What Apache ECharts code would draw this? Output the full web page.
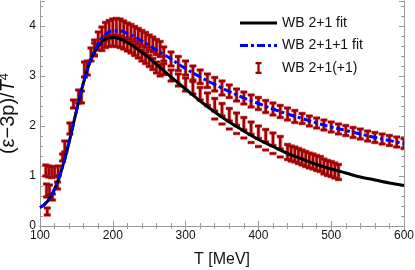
<!DOCTYPE html>
<html><head><meta charset="utf-8">
<script src="https://cdn.jsdelivr.net/npm/echarts@6/dist/echarts.min.js"></script>
<style>html,body{margin:0;padding:0;background:#fff}#c{width:415px;height:270px}</style>
</head><body><div id="c"></div>
<script>
// ---- fit curves ----
const fitT   = [100,110,120,130,140,150,160,170,180,190,200,210,220,230,240,250,260,270,280,290,300,320,340,360,380,400,420,440,460,480,500,520,540,560,580,600];
const fit21  = [0.37,0.49,0.74,1.14,1.68,2.30,2.88,3.33,3.60,3.74,3.77,3.74,3.67,3.58,3.47,3.36,3.23,3.11,2.98,2.86,2.74,2.50,2.28,2.08,1.90,1.73,1.59,1.45,1.34,1.23,1.14,1.06,0.98,0.92,0.86,0.81];
const fit211 = [0.37,0.49,0.74,1.14,1.68,2.30,2.88,3.33,3.64,3.83,3.90,3.90,3.85,3.78,3.70,3.61,3.52,3.43,3.34,3.24,3.15,2.98,2.83,2.69,2.56,2.45,2.34,2.24,2.15,2.06,1.98,1.91,1.84,1.77,1.71,1.65];

// ---- lattice error bars: T, low, high ----
const lowT  = [108,112,116,120,125,109,113,110,117,124,131,134,141,146,153,157,161,165,170,175];
const lowLo = [1.00,0.98,0.97,0.98,1.01,0.58,0.62,0.22,0.52,0.74,1.30,1.48,1.84,2.36,2.46,2.46,2.98,3.02,3.30,3.42];
const lowHi = [1.22,1.20,1.19,1.18,1.20,0.84,0.82,0.36,0.64,0.88,1.44,1.70,2.06,2.52,2.72,2.70,3.28,3.30,3.56,3.66];

const pkUpT  = [175,180,185,190,195,200,205,210,215,220,225,230,235,240,245,250,255,260,265];
const pkUpLo = [3.40,3.52,3.62,3.71,3.75,3.78,3.79,3.78,3.76,3.76,3.73,3.69,3.65,3.61,3.57,3.52,3.48,3.43,3.39];
const pkUpHi = [3.72,3.88,3.98,4.07,4.11,4.14,4.15,4.14,4.10,4.06,4.03,3.99,3.95,3.91,3.87,3.82,3.78,3.73,3.69];

const pkLoT  = [185,190,195,200,205,210,215,220,225,230,235,240,245,250,255,260,265];
const pkLoLo = [3.51,3.57,3.59,3.60,3.59,3.57,3.54,3.50,3.46,3.41,3.36,3.30,3.25,3.19,3.13,3.06,3.00];
const pkLoHi = [3.73,3.79,3.81,3.82,3.81,3.79,3.76,3.72,3.68,3.63,3.58,3.52,3.47,3.41,3.35,3.28,3.22];

const upT  = [270,280,290,300,310,320,330,340,350,360,370,380,390,400,410,420,430,440,450,460,470,480,490,500,510,520,530,540,550,560,570,580,590,600];
const upLo = [3.30,3.20,3.11,3.02,2.92,2.85,2.77,2.70,2.62,2.57,2.50,2.44,2.38,2.33,2.27,2.22,2.17,2.12,2.07,2.05,2.00,1.96,1.92,1.88,1.84,1.81,1.77,1.74,1.70,1.67,1.64,1.61,1.58,1.55];
const upHi = [3.58,3.48,3.39,3.30,3.20,3.12,3.04,2.97,2.90,2.82,2.74,2.68,2.62,2.57,2.51,2.46,2.41,2.36,2.31,2.25,2.20,2.16,2.12,2.08,2.04,2.01,1.97,1.94,1.90,1.87,1.84,1.81,1.78,1.75];

const midT  = [270,280,290,300,310,320,330,340,350,360,370,380,390,400,410,420,430];
const midLo = [3.03,2.90,2.80,2.70,2.64,2.52,2.41,2.30,2.20,2.10,2.01,1.92,1.83,1.75,1.68,1.61,1.54];
const midHi = [3.25,3.12,3.04,2.96,2.89,2.77,2.66,2.55,2.45,2.35,2.26,2.17,2.08,2.00,1.93,1.86,1.79];

const denseT  = [440,445,450,455,460,465,470,475,480,485,490,495,500,505,510];
const denseLo = [1.33,1.30,1.28,1.25,1.22,1.19,1.16,1.14,1.11,1.09,1.04,1.01,0.99,0.96,0.93];
const denseHi = [1.63,1.60,1.58,1.55,1.52,1.49,1.46,1.44,1.41,1.39,1.34,1.31,1.29,1.26,1.23];

const dashT = [340,350,360,370,380,390,400,410,420,430];
const dashV = [2.14,2.04,1.94,1.85,1.76,1.67,1.59,1.52,1.45,1.38];

const xTicks = [100,200,300,400,500,600];
const yTicks = [0,1,2,3,4];

const RED = '#a00000';
const HALO = 'rgba(200,60,60,0.35)';
const FONT = 'Liberation Sans, Arial, Helvetica, sans-serif';

function zip3(a,b,c){ return a.map((v,i)=>[v,b[i],c[i]]); }
const allBars = [].concat(zip3(lowT,lowLo,lowHi), zip3(pkUpT,pkUpLo,pkUpHi), zip3(pkLoT,pkLoLo,pkLoHi),
  zip3(upT,upLo,upHi), zip3(midT,midLo,midHi), zip3(denseT,denseLo,denseHi));
const dashes = dashT.map((t,i)=>[t,dashV[i]]);

function segs(list){
  const out = [];
  [[HALO,4.2],[RED,2.6]].forEach(([c,w])=>{
    list.forEach(s=>out.push({type:'line', shape:{x1:s[0],y1:s[1],x2:s[2],y2:s[3]}, style:{stroke:c, lineWidth:w, fill:null}}));
  });
  return out;
}
function barItem(params, api){
  const x = api.value(0), lo = api.value(1), hi = api.value(2);
  const pH = api.coord([x,hi]), pL = api.coord([x,lo]);
  const w = 3.4;
  return {type:'group', children:segs([
    [pH[0],pH[1],pL[0],pL[1]],
    [pH[0]-w,pH[1],pH[0]+w,pH[1]],
    [pL[0]-w,pL[1],pL[0]+w,pL[1]]
  ])};
}
function dashItem(params, api){
  const p = api.coord([api.value(0), api.value(1)]);
  return {type:'group', children:segs([[p[0]-3.4,p[1],p[0]+3.4,p[1]]])};
}

const frame = {lineStyle:{color:'#9a9a9a', width:1}};
function xAx(pos, labels){
  return {type:'value', position:pos, min:xTicks[0], max:xTicks[xTicks.length-1], interval:100,
    axisLine:{show:true, ...frame}, splitLine:{show:false},
    axisTick:{show:true, inside:true, length:5, lineStyle:{color:'#9a9a9a'}},
    minorTick:{show:true, splitNumber:5, length:3, lineStyle:{color:'#9a9a9a'}},
    axisLabel:{show:labels, fontSize:12, color:'#111', fontFamily:FONT, margin:4},
    name: labels ? 'T [MeV]' : '', nameLocation:'middle', nameGap:26,
    nameTextStyle:{fontSize:16, color:'#111', fontFamily:FONT, verticalAlign:'top'}};
}
function yAx(pos, labels){
  return {type:'value', position:pos, min:0, max:4.5, interval:1,
    axisLine:{show:true, ...frame}, splitLine:{show:false},
    axisTick:{show:true, inside:true, length:5, lineStyle:{color:'#9a9a9a'}},
    minorTick:{show:true, splitNumber:5, length:3, lineStyle:{color:'#9a9a9a'}},
    axisLabel:{show:labels, fontSize:12, color:'#111', fontFamily:FONT, margin:4,
      formatter:v=> yTicks.indexOf(v)>=0 ? String(v) : ''},
    name: labels ? '{a|(ε−3p)/}{i|T}{s|4}' : '', nameLocation:'middle', nameGap:19,
    nameTextStyle:{fontFamily:FONT, color:'#111', rich:{
      a:{fontSize:20, fontFamily:FONT, color:'#111', lineHeight:22},
      i:{fontSize:20, fontFamily:FONT, fontStyle:'italic', color:'#111', lineHeight:22},
      s:{fontSize:13, fontFamily:FONT, color:'#111', verticalAlign:'top', lineHeight:22}
    }}};
}

const chart = echarts.init(document.getElementById('c'), null, {renderer:'canvas'});
chart.setOption({
  animation:false,
  backgroundColor:'#fff',
  grid:{left:40, right:11, top:1, bottom:44, containLabel:false, outerBoundsMode:'none'},
  xAxis:[xAx('bottom',true), xAx('top',false)],
  yAxis:[yAx('left',true), yAx('right',false)],
  legend:{orient:'vertical', left:240, top:16, padding:0, itemWidth:37, itemHeight:12, itemGap:8.5,
    textStyle:{fontSize:14, color:'#111', fontFamily:FONT},
    data:[
      {name:'WB 2+1 fit', icon:'path://M0,0H37V3H0Z', itemStyle:{color:'#000'}},
      {name:'WB 2+1+1 fit', icon:'path://M0,0H8V3H0Z M11,0H14V3H11Z M17,0H25V3H17Z M28,0H31V3H28Z M34,0H37V3H34Z', itemStyle:{color:'#0000ff'}},
      {name:'WB 2+1(+1)', icon:'path://M0,0H7V2.6H4.8V11.4H7V14H0V11.4H2.2V2.6H0Z', itemStyle:{color:RED}}]},
  series:[
    {name:'WB 2+1(+1)', type:'custom', renderItem:barItem, data:allBars, clip:true, z:2,
      encode:{x:0, y:[1,2]}, itemStyle:{color:RED}},
    {name:'WB 2+1(+1)', type:'custom', renderItem:dashItem, data:dashes, clip:true, z:2,
      encode:{x:0, y:1}, itemStyle:{color:RED}},
    {name:'WB 2+1 fit', type:'line', data:fitT.map((t,i)=>[t,fit21[i]]), smooth:true, showSymbol:false, symbol:'none',
      lineStyle:{color:'#000', width:3}, itemStyle:{color:'#000'}, z:3},
    {name:'WB 2+1+1 fit', type:'line', data:fitT.map((t,i)=>[t,fit211[i]]), smooth:true, showSymbol:false, symbol:'none',
      lineStyle:{color:'#0000ff', width:3, type:[8,3,3,3]}, itemStyle:{color:'#0000ff'}, z:4}
  ]
});
</script></body></html>
